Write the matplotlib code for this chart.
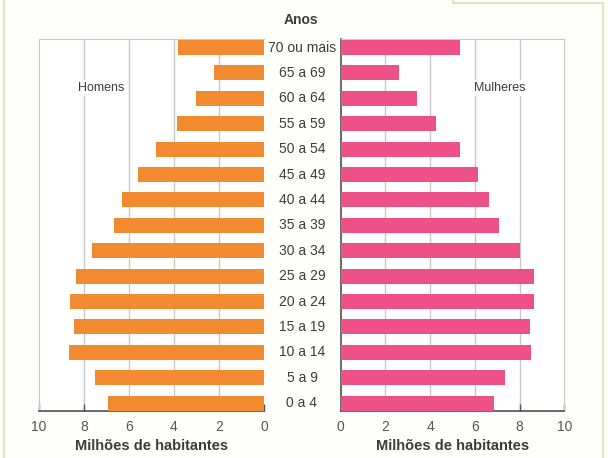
import matplotlib
matplotlib.use("Agg")
import matplotlib.pyplot as plt
from matplotlib.lines import Line2D
from matplotlib.transforms import blended_transform_factory

# Age groups, youngest first (drawn bottom to top)
age_groups = ["0 a 4", "5 a 9", "10 a 14", "15 a 19", "20 a 24", "25 a 29",
              "30 a 34", "35 a 39", "40 a 44", "45 a 49", "50 a 54", "55 a 59",
              "60 a 64", "65 a 69", "70 ou mais"]

# Population in millions of inhabitants
men = [6.95, 7.5, 8.65, 8.45, 8.6, 8.35, 7.65, 6.65, 6.3, 5.6, 4.8, 3.85,
       3.0, 2.2, 3.8]
women = [6.85, 7.35, 8.5, 8.45, 8.65, 8.65, 8.0, 7.1, 6.65, 6.15, 5.35, 4.25,
         3.4, 2.6, 5.35]

x_ticks = [0, 2, 4, 6, 8, 10]
x_label = "Milhões de habitantes"

orange = "#f28a30"
pink = "#ee5188"
grid_gray = "#c9c9c9"
axis_dark = "#505050"
text_gray = "#3c3c3c"

plt.rcParams["font.family"] = ["Liberation Sans", "DejaVu Sans"]

fig = plt.figure(figsize=(6.08, 4.58), dpi=100, facecolor="#fefefb")

ax_m = fig.add_axes([0.0641, 0.1033, 0.370, 0.8122])
ax_w = fig.add_axes([0.5604, 0.1033, 0.3678, 0.8122])

y = list(range(len(age_groups)))

for ax, vals, color in ((ax_m, men, orange), (ax_w, women, pink)):
    ax.set_facecolor("white")
    ax.barh(y, vals, height=0.59, color=color, zorder=3)
    ax.set_ylim(-0.3, len(age_groups) - 1 + 0.35)
    for g in (2, 4, 6, 8):
        ax.axvline(g, color=grid_gray, lw=1.0, zorder=1)
    ax.set_yticks([])
    ax.set_xticks(x_ticks)
    ax.set_xticklabels([str(t) for t in x_ticks])
    ax.tick_params(axis="x", direction="in", length=5, width=1.0,
                   color=axis_dark, labelcolor="#555555", labelsize=10, pad=7)
    ax.spines["bottom"].set_color(axis_dark)
    ax.spines["bottom"].set_linewidth(1.2)
    ax.spines["top"].set_color(grid_gray)
    ax.set_xlabel(x_label, fontsize=10.5, fontweight="bold", color=text_gray,
                  labelpad=3)

# Men: axis runs from 10 on the left to 0 at the centre
ax_m.set_xlim(10, 0)
ax_m.spines["left"].set_color(grid_gray)
ax_m.spines["right"].set_visible(False)

# Women: axis runs from 0 at the centre to 10 on the right
ax_w.set_xlim(0, 10)
ax_w.spines["left"].set_color(axis_dark)
ax_w.spines["left"].set_linewidth(1.2)
ax_w.spines["right"].set_color(grid_gray)

# Age group labels in the gap between the two halves
tr = blended_transform_factory(fig.transFigure, ax_w.transData)
for yi, lab in zip(y, age_groups):
    fig.text(302 / 608, yi, lab, transform=tr, ha="center", va="center",
             fontsize=10, color=text_gray)

fig.text(301 / 608, 1 - 20 / 458, "Anos", ha="center", va="center",
         fontsize=10, fontweight="bold", color=text_gray)

box = dict(facecolor="white", edgecolor="none", pad=1.5)
ax_m.text(7.25, 12.4, "Homens", ha="center", va="center", fontsize=9,
          color=text_gray, bbox=box, zorder=4)
ax_w.text(7.1, 12.4, "Mulheres", ha="center", va="center", fontsize=9,
          color=text_gray, bbox=box, zorder=4)

# Page frame lines
frame = "#e3e6bd"
fig.add_artist(Line2D([4 / 608, 4 / 608], [0, 1], transform=fig.transFigure,
                      color=frame, lw=1.5))
fig.add_artist(Line2D([603 / 608, 603 / 608], [0, 1 - 3 / 458],
                      transform=fig.transFigure, color=frame, lw=1.5))
fig.add_artist(Line2D([453 / 608, 603 / 608], [1 - 3 / 458, 1 - 3 / 458],
                      transform=fig.transFigure, color=frame, lw=1.5))
fig.add_artist(Line2D([453 / 608, 453 / 608], [1, 1 - 3 / 458],
                      transform=fig.transFigure, color=frame, lw=1.5))

fig.savefig("out.png", dpi=100, facecolor=fig.get_facecolor())
